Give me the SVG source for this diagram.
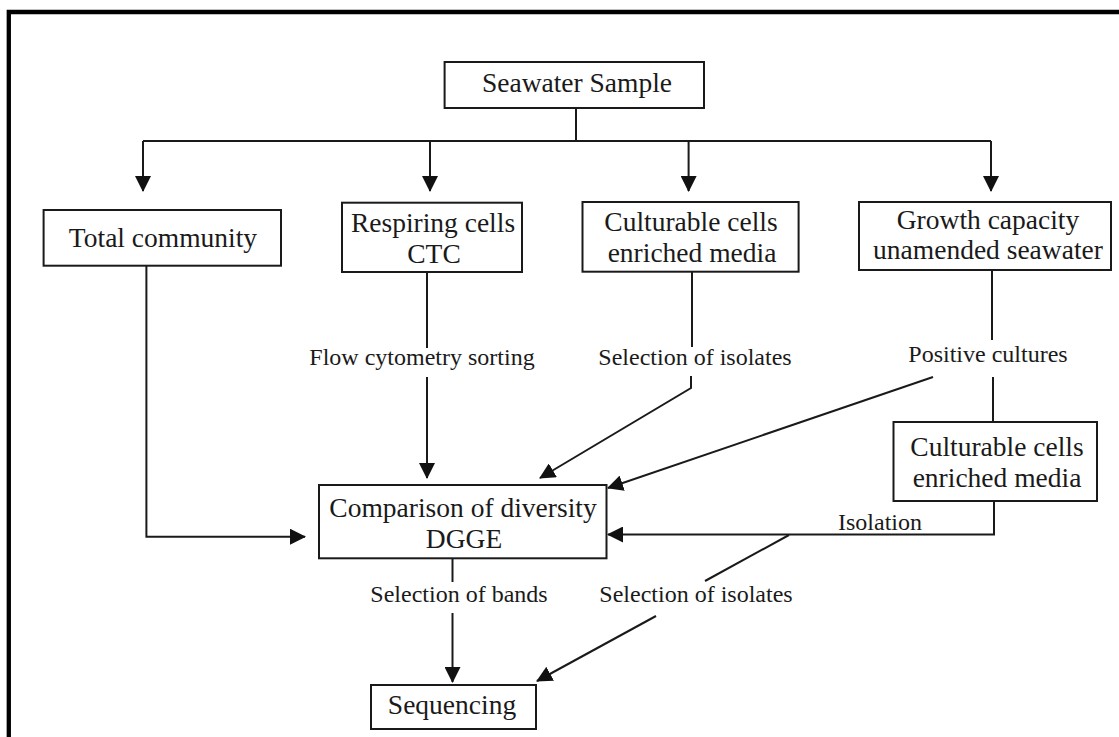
<svg xmlns="http://www.w3.org/2000/svg" width="1119" height="737" viewBox="0 0 1119 737">
<style>
.box{fill:#fff;stroke:#1a1a1a;stroke-width:2}
.t{font-family:"Liberation Serif","Times New Roman",serif;font-size:27.5px;fill:#1a1a1a;text-anchor:middle}
.l{font-family:"Liberation Serif","Times New Roman",serif;font-size:24px;fill:#1a1a1a;text-anchor:middle}
.c{fill:none;stroke:#1a1a1a;stroke-width:2}
</style>
<defs>
<marker id="ah" markerUnits="userSpaceOnUse" markerWidth="16" markerHeight="16" refX="15" refY="8" orient="auto" viewBox="0 0 16 16">
<path d="M0,0 L16,8 L0,16 z" fill="#111"/>
</marker>
</defs>
<rect width="1119" height="737" fill="#fff"/>
<path d="M8.8,737 V12 H1119" fill="none" stroke="#000" stroke-width="4.3"/>
<g id="connectors">
<path class="c" d="M576,108 V141"/>
<path class="c" d="M143,141 H991"/>
<path class="c" d="M143,141 V191" marker-end="url(#ah)"/>
<path class="c" d="M430,141 V191" marker-end="url(#ah)"/>
<path class="c" d="M688.6,141 V191" marker-end="url(#ah)"/>
<path class="c" d="M991,141 V191" marker-end="url(#ah)"/>
<path class="c" d="M146.4,266 V536.7 H305" marker-end="url(#ah)"/>
<path class="c" d="M427,272 V348"/>
<path class="c" d="M427,377 V478" marker-end="url(#ah)"/>
<path class="c" d="M692,272 V347"/>
<path class="c" d="M691,376 V388 L540,478" marker-end="url(#ah)"/>
<path class="c" d="M992,270 V340"/>
<path class="c" d="M993,377 V422"/>
<path class="c" d="M933,377 L608,488" marker-end="url(#ah)"/>
<path class="c" d="M994,501 V534.5 H608" marker-end="url(#ah)"/>
<path class="c" d="M789,535 L705,581"/>
<path class="c" d="M656,616 L537,681" marker-end="url(#ah)"/>
<path class="c" d="M452.5,558 V582"/>
<path class="c" d="M452.5,613 V682" marker-end="url(#ah)"/>
<text class="l" x="422" y="365">Flow cytometry sorting</text>
<text class="l" x="695" y="365">Selection of isolates</text>
<text class="l" x="988" y="362">Positive cultures</text>
<text class="l" x="880" y="530">Isolation</text>
<text class="l" x="459" y="602">Selection of bands</text>
<text class="l" x="696" y="602">Selection of isolates</text>
</g>
<g id="seawater">
<rect class="box" x="444.6" y="62" width="259.4" height="46"/>
<text class="t" x="577" y="92">Seawater Sample</text>
</g>
<g id="total">
<rect class="box" x="43.6" y="210" width="237.4" height="55.7"/>
<text class="t" x="163" y="247">Total community</text>
</g>
<g id="respiring">
<rect class="box" x="342" y="202.7" width="180" height="69.3"/>
<text class="t" x="433" y="232">Respiring cells</text>
<text class="t" x="434" y="263">CTC</text>
</g>
<g id="culturable">
<rect class="box" x="582.5" y="202" width="216.1" height="69.7"/>
<text class="t" x="691" y="231">Culturable cells</text>
<text class="t" x="692" y="262">enriched media</text>
</g>
<g id="growth">
<rect class="box" x="859" y="202" width="252" height="68"/>
<text class="t" x="988" y="229">Growth capacity</text>
<text class="t" x="988" y="259">unamended seawater</text>
</g>
<g id="culturable2">
<rect class="box" x="893.5" y="422" width="203.5" height="79"/>
<text class="t" x="997" y="456">Culturable cells</text>
<text class="t" x="997" y="487">enriched media</text>
</g>
<g id="comparison">
<rect class="box" x="319" y="485" width="287.5" height="73.3"/>
<text class="t" x="463" y="517">Comparison of diversity</text>
<text class="t" x="464" y="548">DGGE</text>
</g>
<g id="sequencing">
<rect class="box" x="371" y="685" width="165" height="44"/>
<text class="t" x="452" y="714">Sequencing</text>
</g>
</svg>
